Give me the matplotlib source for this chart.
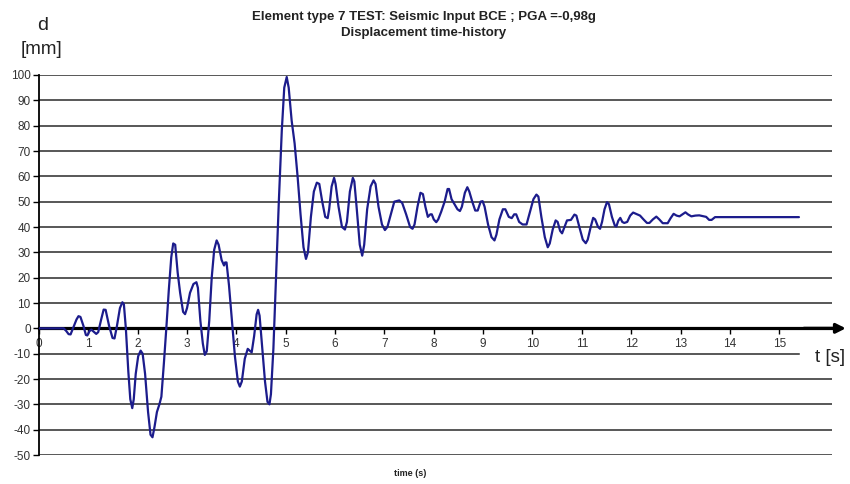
import matplotlib
matplotlib.use("Agg")
import matplotlib.pyplot as plt

plt.rcParams['font.family'] = ['Liberation Sans', 'DejaVu Sans']
plt.rcParams['axes.unicode_minus'] = False

# ---- data (time in s, displacement in mm) ----
time_s = [0, 0.35, 0.50, 0.55, 0.60, 0.64, 0.70, 0.76, 0.80, 0.84, 0.90, 0.95, 0.98, 1.02, 1.06,
          1.10, 1.16, 1.20, 1.26, 1.31, 1.35, 1.42, 1.49, 1.53, 1.58, 1.64, 1.69, 1.72,
          1.76, 1.81, 1.85, 1.89, 1.92, 1.96, 2.01, 2.06, 2.10, 2.15, 2.21, 2.26, 2.30, 2.34,
          2.39, 2.44, 2.48, 2.53, 2.58, 2.63, 2.68, 2.72, 2.76, 2.81, 2.86, 2.92, 2.96, 3.00,
          3.06, 3.13, 3.19, 3.22, 3.27, 3.32, 3.36, 3.40, 3.45, 3.50, 3.55, 3.60, 3.64,
          3.70, 3.75, 3.77, 3.80, 3.85, 3.91, 3.97, 4.03, 4.07, 4.11, 4.17, 4.23, 4.27, 4.31,
          4.36, 4.41, 4.44, 4.47, 4.52, 4.58, 4.63, 4.67, 4.70, 4.75, 4.80, 4.86, 4.92, 4.97,
          5.02, 5.06, 5.12, 5.18, 5.24, 5.30, 5.36, 5.41, 5.45, 5.51, 5.57, 5.63, 5.68,
          5.74, 5.80, 5.85, 5.88, 5.93, 5.98, 6.01, 6.07, 6.14, 6.20, 6.24, 6.30, 6.36, 6.39,
          6.44, 6.50, 6.55, 6.59, 6.65, 6.72, 6.78, 6.82, 6.88, 6.95, 7.01, 7.06, 7.13, 7.20,
          7.30, 7.36, 7.44, 7.52, 7.57, 7.61, 7.67, 7.73, 7.78, 7.83, 7.88, 7.93, 7.96, 8.00,
          8.05, 8.09, 8.15, 8.22, 8.28, 8.31, 8.36, 8.42, 8.48, 8.53, 8.57, 8.63, 8.68, 8.72,
          8.78, 8.84, 8.89, 8.95, 8.99, 9.03, 9.10, 9.17, 9.23, 9.27, 9.33, 9.40, 9.45,
          9.52, 9.58, 9.63, 9.67, 9.73, 9.80, 9.88, 9.95, 10.02, 10.08, 10.12, 10.18, 10.25,
          10.31, 10.35, 10.41, 10.47, 10.51, 10.56, 10.60, 10.65, 10.70, 10.78, 10.85, 10.89,
          10.95, 11.02, 11.08, 11.12, 11.18, 11.23, 11.27, 11.33, 11.37, 11.41, 11.46, 11.51,
          11.55, 11.61, 11.67, 11.70, 11.74, 11.78, 11.82, 11.86, 11.92, 11.98, 12.04, 12.10,
          12.18, 12.25, 12.32, 12.37, 12.44, 12.51, 12.57, 12.64, 12.74, 12.80, 12.86, 12.92,
          12.98, 13.04, 13.10, 13.15, 13.22, 13.30, 13.38, 13.45, 13.52, 13.58, 13.63, 13.70,
          15.40]
disp_mm = [0, 0, 0, -1.0, -2.3, -2.4, 0.5, 3.5, 4.8, 4.5, 1.0, -2.6, -2.8, -1.2, -0.5,
           -1.2, -2.2, -1.5, 3.5, 7.4, 7.3, 1.0, -3.8, -4.0, 1.0, 8.0, 10.3, 9.5,
           0.0, -17.0, -28.0, -31.5, -28.0, -18.0, -11.0, -8.8, -10.0, -18.0, -33.0, -42.0, -43.0, -39.0,
           -33.0, -30.0, -27.0, -14.0, 0.0, 15.0, 28.0, 33.5, 33.0, 22.0, 14.0, 6.5, 5.6, 8.0,
           14.0, 17.5, 18.2, 16.0, 3.0, -6.0, -10.5, -9.0, 3.0, 20.0, 31.0, 34.7, 33.0,
           27.0, 24.8, 26.0, 26.0, 17.0, 3.0, -11.0, -21.0, -23.0, -21.0, -12.0, -8.1, -8.8, -9.5,
           -3.0, 5.5, 7.3, 5.0, -7.0, -21.0, -29.0, -30.0, -26.0, -8.0, 18.0, 50.0, 78.0, 95.0,
           99.2, 95.0, 82.0, 73.0, 60.0, 45.0, 32.0, 27.4, 30.0, 44.0, 54.0, 57.5, 57.0,
           50.0, 44.0, 43.5, 47.0, 56.0, 59.4, 57.0, 48.0, 40.0, 39.0, 42.0, 54.0, 59.4, 58.0,
           47.0, 33.0, 28.7, 33.0, 47.0, 56.0, 58.4, 57.0, 48.0, 41.0, 38.8, 40.0, 45.0, 50.0,
           50.5, 49.5, 45.0, 40.0, 39.3, 41.0, 48.0, 53.5, 53.0, 48.0, 44.0, 45.0, 45.0, 43.0,
           41.9, 43.0, 46.0, 50.0, 55.0, 55.0, 51.0, 49.0, 47.0, 46.3, 48.0, 53.5, 55.7, 54.0,
           50.0, 46.5, 46.5, 50.0, 50.2, 48.0, 41.0, 36.0, 34.7, 37.0, 43.0, 47.0, 47.0,
           44.0, 43.5, 45.0, 45.0, 42.0, 41.0, 41.0, 46.0, 51.0, 52.8, 52.0, 44.0, 36.0,
           32.0, 33.5, 39.0, 42.6, 42.0, 38.5, 37.5, 40.0, 42.6, 42.8, 44.9, 44.5,
           40.0, 35.0, 33.6, 35.0, 40.0, 43.6, 43.0, 40.0, 39.3, 42.0, 47.0, 49.8,
           49.0, 44.0, 40.5, 40.2, 42.5, 43.6, 42.0, 41.6, 42.0, 44.5, 45.7, 45.2,
           44.5, 43.0, 41.6, 41.6, 43.0, 44.1, 43.0, 41.5, 41.5, 43.5, 45.2, 44.5,
           44.2, 45.0, 45.8, 45.0, 44.2, 44.5, 44.6, 44.3, 44.0, 42.8, 42.8, 43.9,
           43.9]
x_ticks = list(range(0, 16))
y_ticks = list(range(-50, 101, 10))

title_text = "Element type 7 TEST: Seismic Input BCE ; PGA =-0,98g\nDisplacement time-history"

# ---- figure ----
fig = plt.figure(figsize=(8.5, 4.84), dpi=100)
ax = fig.add_axes([39/850, 1 - 455/484, (832 - 39)/850, (455 - 75)/484])
ax.set_xlim(0, 16.07)
ax.set_ylim(-50, 100)

# horizontal gridlines
for yv in y_ticks:
    if yv == 0:
        continue
    xmax = 15.4 if yv == -10 else 16.07
    ax.plot([0, xmax], [yv, yv], color='#2a2a2a', lw=1.1, zorder=1)

# curve
ax.plot(time_s, disp_mm, color='#1c1c8c', lw=1.6, zorder=3,
        solid_joinstyle='round', solid_capstyle='round')

# spines
for s in ['top', 'right']:
    ax.spines[s].set_visible(False)
ax.spines['left'].set_linewidth(1.3)
ax.spines['bottom'].set_position(('data', 0))
ax.spines['bottom'].set_linewidth(2.3)
ax.spines['bottom'].set_zorder(2)

ax.set_yticks(y_ticks)
ax.set_xticks(x_ticks)
ax.tick_params(axis='y', direction='out', length=4, width=1, labelsize=8.5, labelcolor='#333333', pad=2)
ax.tick_params(axis='x', direction='out', length=4, width=1, labelsize=8.5, labelcolor='#333333', pad=3)

# arrow on time axis
ax.annotate('', xy=(16.35, 0), xytext=(15.5, 0),
            arrowprops=dict(arrowstyle='-|>', lw=2.3, color='black', mutation_scale=14,
                            shrinkA=0, shrinkB=0),
            annotation_clip=False, zorder=4)

# axis labels
fig.text(43/850, 1 - 26/484, "d", fontsize=14, ha='center', va='center', color='#222222')
fig.text(42/850, 1 - 50/484, "[mm]", fontsize=13.5, ha='center', va='center', color='#222222')
fig.text(830/850, 1 - 358/484, "t [s]", fontsize=13.5, ha='center', va='center', color='#222222',
         bbox=dict(facecolor='white', edgecolor='none', pad=1))

fig.text(424/850, 1 - 25/484, title_text, fontsize=9.5, fontweight='bold', ha='center', va='center',
         color='#222222', linespacing=1.5)
fig.text(410/850, 1 - 474/484, "time (s)", fontsize=6.5, fontweight='bold', ha='center', va='center',
         color='#222222')

fig.savefig('out.png', dpi=100)
